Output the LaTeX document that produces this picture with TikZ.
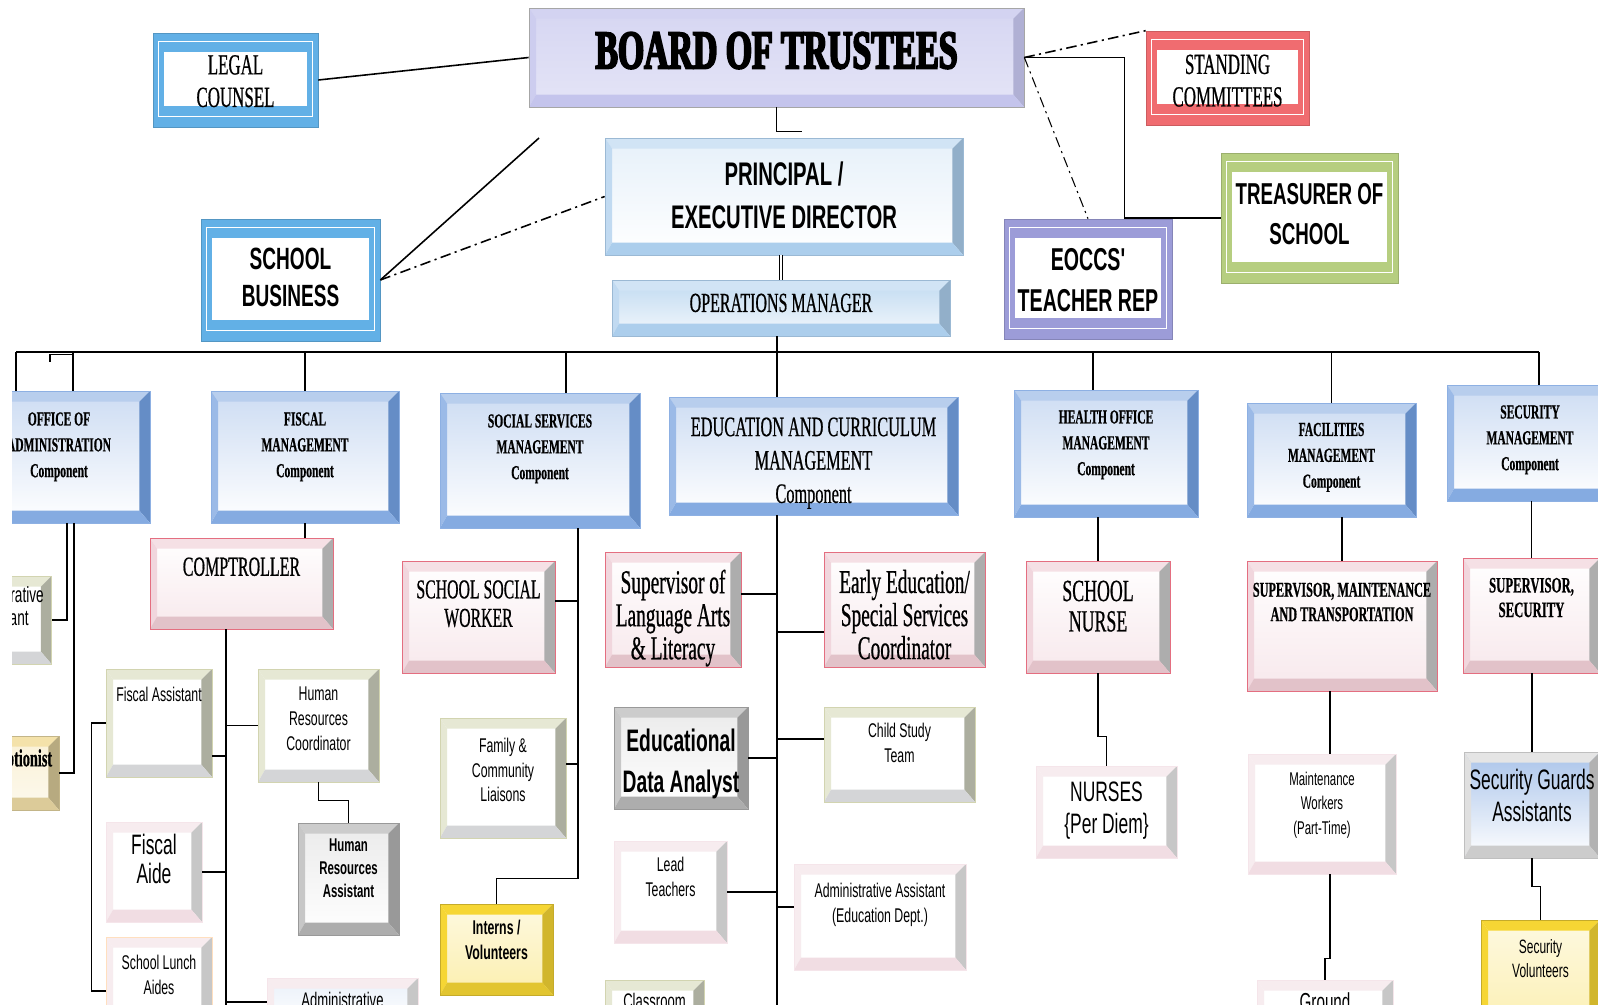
\documentclass[tikz,border=0pt]{standalone}
\usepackage{fontspec}
\setmainfont{Liberation Serif}
\newfontfamily\nserif[FakeStretch=0.58,FakeBold=0.6]{Liberation Serif}
\newfontfamily\nsans[FakeStretch=0.62]{Liberation Sans}
\newfontfamily\heavy[FakeStretch=0.62,FakeBold=3.5]{Liberation Serif}

\newlength\pxu
\setlength\pxu{0.569pt}
\newcommand{\fs}[2]{\fontsize{#1}{#2}\selectfont}
% text block, raised by #1 pixels of the chart
\newcommand{\lift}[2]{\raisebox{\dimexpr #1\pxu-.3em\relax}[0pt][0pt]{%
  \begin{tabular}{@{}c@{}}#2\end{tabular}}}

\definecolor{compblue}{RGB}{112,156,220}
\definecolor{lav}{RGB}{196,196,236}
\definecolor{pblue}{RGB}{172,206,236}
\definecolor{rimblue}{RGB}{98,176,230}
\definecolor{rimred}{RGB}{240,108,112}
\definecolor{rimgreen}{RGB}{182,206,128}
\definecolor{rimlav}{RGB}{156,156,216}
\definecolor{pinkline}{RGB}{228,110,128}
\definecolor{pinkband}{RGB}{238,204,212}
\definecolor{creamband}{RGB}{230,232,212}
\definecolor{creamline}{RGB}{210,212,176}
\definecolor{faint}{RGB}{238,212,220}
\definecolor{yel}{RGB}{246,214,52}
\definecolor{sand}{RGB}{244,226,170}

\tikzset{
  sz/.style 2 args={minimum width=#1*0.02cm, minimum height=#2*0.02cm, inner sep=0pt},
  bev/.style n args={4}{line width=.4pt, path picture={
      \path (path picture bounding box.north west) coordinate (bvA)
            (path picture bounding box.north east) coordinate (bvB)
            (path picture bounding box.south east) coordinate (bvC)
            (path picture bounding box.south west) coordinate (bvD);
      \path ([shift={(4pt,-6pt)}]bvA) coordinate (bvE)
            ([shift={(-6pt,-6pt)}]bvB) coordinate (bvF)
            ([shift={(-6pt,7pt)}]bvC) coordinate (bvG)
            ([shift={(4pt,7pt)}]bvD) coordinate (bvH);
      \fill[#1] (bvA) -- (bvB) -- (bvF) -- (bvE) -- cycle;
      \fill[#2] (bvA) -- (bvE) -- (bvH) -- (bvD) -- cycle;
      \fill[#3] (bvB) -- (bvC) -- (bvG) -- (bvF) -- cycle;
      \fill[#4] (bvD) -- (bvH) -- (bvG) -- (bvC) -- cycle;}},
  rim/.style={fill=#1, draw=#1!85!black, line width=.4pt, path picture={
      \fill[white] ([shift={(6pt,-11pt)}]path picture bounding box.north west)
        rectangle ([shift={(-6pt,12pt)}]path picture bounding box.south east);
      \draw[white, line width=.8pt] ([shift={(3pt,-5pt)}]path picture bounding box.north west)
        rectangle ([shift={(-3pt,6pt)}]path picture bounding box.south east);}},
  boardbox/.style={bev={lav!75}{lav!85}{lav!90!black}{lav}, top color=lav!70,
      bottom color=lav!45, draw=black!35, font=\heavy\bfseries\fs{31}{34}},
  pblbox/.style={bev={pblue!55}{pblue!75}{pblue!85!black}{pblue}, top color=pblue!30,
      bottom color=white, draw=pblue!90!black, font=\nsans\bfseries\fs{18.6}{24.4}},
  comp/.style={bev={compblue!50}{compblue!70}{compblue!90!black}{compblue!85},
      top color=compblue!35, bottom color=white, draw=compblue!80,
      font=\nserif\bfseries\fs{11.3}{14.7}},
  pinkbox/.style={bev={pinkband!60}{pinkband!80}{black!32}{pinkband!95!black},
      top color=white, bottom color=pinkband!45, draw=pinkline, font=\nserif\fs{15.7}{16.5}},
  creambox/.style={bev={creamband}{creamband}{black!25!creamband}{blue!8!creamband},
      fill=white, draw=creamline, font=\nsans\fs{11.3}{14.3}},
  faintbox/.style={bev={faint!45}{faint!45}{black!22}{faint!80}, fill=white,
      draw=faint!60, font=\nsans\fs{11.3}{14.3}},
  greybox/.style={bev={black!20}{black!22}{black!40}{black!32}, top color=black!8,
      bottom color=white, draw=black!40, font=\nsans\bfseries\fs{10.5}{13.3}},
  yelbox/.style={bev={yel}{yel}{yel!85!black}{yel!92!black}, top color=yel!15,
      bottom color=yel!40, draw=yel!80!black, font=\nsans\fs{11.3}{14.3}},
  sandbox/.style={bev={sand}{sand}{sand!75!black}{sand!90!black}, top color=sand!50,
      bottom color=sand!20, draw=sand!80!black},
  guardbox/.style={bev={black!10}{black!12}{black!30}{black!20}, top color=compblue!60,
      bottom color=white, draw=black!25, font=\nsans\fs{16}{18.5}},
  dotlink/.style={dash pattern=on 6pt off 2.5pt on 1.2pt off 2.5pt}
}

\begin{document}
\begin{tikzpicture}[x=0.02cm, y=-0.02cm, line width=.9pt]
  \useasboundingbox (0,0) rectangle (1598,1004);
  \clip (12,0) rectangle (1598,1004);

  % board, principal and advisers
  \node[boardbox, sz={495}{99}] (board) at (776.5,57.5) {\lift{6.5}{BOARD OF TRUSTEES}};
  \node[rim=rimblue, sz={165}{94}, font=\nserif\fs{16.6}{18.5}] (legal) at (235.5,80) {\lift{-3}{LEGAL\\COUNSEL}};
  \node[rim=rimred, sz={163}{94}, font=\nserif\fs{16.6}{18.5}] (stand) at (1227.5,78) {\lift{-4.5}{STANDING\\COMMITTEES}};
  \node[pblbox, sz={358}{117}] (princ) at (784,196.5) {\lift{0}{PRINCIPAL /\\EXECUTIVE DIRECTOR}};
  \node[pblbox, top color=pblue!75, bottom color=pblue!15, sz={338}{56}, font=\nserif\fs{15.7}{17}] (ops) at (781,308) {\lift{4}{OPERATIONS MANAGER}};
  \node[rim=rimblue, sz={179}{122}, font=\nsans\bfseries\fs{17.5}{21.4}] (biz) at (290.5,280) {\lift{1}{SCHOOL\\BUSINESS}};
  \node[rim=rimgreen, sz={177}{130}, font=\nsans\bfseries\fs{17.2}{23}] (treas) at (1309.5,218) {\lift{3}{TREASURER OF\\SCHOOL}};
  \node[rim=rimlav, sz={168}{120}, font=\nsans\bfseries\fs{18}{23}] (eoccs) at (1088,279) {\lift{-2}{EOCCS'\\TEACHER REP}};

  % components
  \node[comp, sz={182}{132}] (office) at (59,457) {\lift{12}{OFFICE OF\\ADMINISTRATION\\Component}};
  \node[comp, sz={188}{132}] (fiscal) at (305,457) {\lift{12}{FISCAL\\MANAGEMENT\\Component}};
  \node[comp, sz={200}{135}] (social) at (540,460.5) {\lift{13.5}{SOCIAL SERVICES\\MANAGEMENT\\Component}};
  \node[comp, sz={289}{118}, font=\nserif\fs{16}{19}] (edu) at (813.5,456) {\lift{-6}{EDUCATION AND CURRICULUM\\MANAGEMENT\\Component}};
  \node[comp, sz={184}{127}] (health) at (1106,453.5) {\lift{10.5}{HEALTH OFFICE\\MANAGEMENT\\Component}};
  \node[comp, sz={169}{114}] (fac) at (1331.5,460) {\lift{4.5}{FACILITIES\\MANAGEMENT\\Component}};
  \node[comp, sz={166}{116}] (secm) at (1530,443) {\lift{5}{SECURITY\\MANAGEMENT\\Component}};

  % office of administration staff
  \node[creambox, sz={101}{88}, font=\nsans\fs{12.5}{13.3}] (adm) at (1,620) {\lift{12}{Administrative\\Assistant}};
  \node[sandbox, sz={89}{74}, font=\nserif\bfseries\fs{14}{15}] (recep) at (14.5,773) {\lift{13}{Receptionist}};

  % fiscal staff
  \node[pinkbox, sz={183}{91}] (compt) at (241.5,583.5) {\lift{15.5}{COMPTROLLER}};
  \node[creambox, sz={106}{108}] (fa) at (159,723) {\lift{28}{Fiscal Assistant}};
  \node[creambox, sz={121}{113}] (hrc) at (318.5,725.5) {\lift{6.5}{Human\\Resources\\Coordinator}};
  \node[greybox, sz={101}{112}] (hra) at (348.5,879) {\lift{10}{Human\\Resources\\Assistant}};
  \node[faintbox, sz={96}{100}, font=\nsans\fs{16}{16.7}] (aide) at (154,872) {\lift{10}{Fiscal\\Aide}};
  \node[faintbox, draw=orange!25, sz={106}{108}] (lunch) at (159,991) {\lift{15.5}{School Lunch\\Aides}};
  \node[faintbox, top color=compblue!15, bottom color=white, sz={151}{48}, font=\nsans\fs{12}{14}] (admb) at (342.5,1002) {\lift{0}{Administrative}};

  % social services staff
  \node[pinkbox, sz={153}{112}, font=\nserif\fs{15.5}{16.2}] (ssw) at (478.5,617) {\lift{12}{SCHOOL SOCIAL\\WORKER}};
  \node[creambox, sz={126}{120}, font=\nsans\fs{11.3}{13.9}] (fam) at (503,778) {\lift{7}{Family \&\\Community\\Liaisons}};
  \node[yelbox, sz={113}{91}, font=\nsans\bfseries\fs{11.3}{14.5}] (interns) at (496.5,949.5) {\lift{8.5}{Interns /\\Volunteers}};

  % education staff
  \node[pinkbox, sz={136}{115}, font=\nserif\fs{19}{18.8}] (lang) at (673,609.5) {\lift{-7.5}{Supervisor of\\Language Arts\\\& Literacy}};
  \node[pinkbox, sz={161}{115}, font=\nserif\fs{19}{18.8}] (early) at (904.5,609.5) {\lift{-7.5}{Early Education/\\Special Services\\Coordinator}};
  \node[greybox, sz={134}{102}, font=\nsans\bfseries\fs{17.7}{23}] (eda) at (681,758) {\lift{-4}{Educational\\Data Analyst}};
  \node[creambox, sz={151}{95}] (cst) at (899.5,754.5) {\lift{10.5}{Child Study\\Team}};
  \node[faintbox, sz={113}{102}] (lead) at (670.5,892) {\lift{14}{Lead\\Teachers}};
  \node[faintbox, sz={172}{106}] (aae) at (880,917) {\lift{13}{Administrative Assistant\\(Education Dept.)}};
  \node[creambox, sz={99}{46}, font=\nsans\fs{12}{14}] (class) at (654.5,1003) {\lift{0}{Classroom}};

  % health, facilities, security staff
  \node[pinkbox, sz={144}{112}, font=\nserif\fs{17.5}{17.3}] (nurse) at (1098,617) {\lift{8.5}{SCHOOL\\NURSE}};
  \node[faintbox, sz={141}{92}, font=\nsans\fs{16}{18.5}] (nurses) at (1106.5,812) {\lift{2}{NURSES\\\{Per Diem\}}};
  \node[pinkbox, sz={190}{130}, font=\nserif\bfseries\fs{12}{13.9}] (supm) at (1342,626) {\lift{23}{SUPERVISOR, MAINTENANCE\\AND TRANSPORTATION}};
  \node[faintbox, sz={148}{120}, font=\nsans\fs{10.5}{13.9}] (maint) at (1322,814) {\lift{10}{Maintenance\\Workers\\(Part-Time)}};
  \node[faintbox, sz={136}{48}, font=\nsans\fs{14}{16}] (ground) at (1325,1004) {\lift{0}{Ground}};
  \node[pinkbox, sz={137}{115}, font=\nserif\bfseries\fs{12.5}{14}] (sups) at (1531.5,615.5) {\lift{17}{SUPERVISOR,\\SECURITY}};
  \node[guardbox, sz={136}{106}] (sga) at (1532,805) {\lift{7}{Security Guards\\Assistants}};
  \node[yelbox, sz={119}{120}, font=\nsans\fs{11}{13.6}] (secv) at (1540.5,980) {\lift{20}{Security\\Volunteers}};

  % links at the top
  \coordinate (bizend) at (539,138);
  \draw (legal.east) -- (board.west);
  \draw (biz.east) -- (bizend);
  \draw[dotlink] (biz.east) -- (princ.west);
  \draw (board.south) |- ([shift={(18,-6)}]princ.north);
  \draw[dotlink] (board.east) -- (stand.north west);
  \draw (board.east) -| ([shift={(-96,0)}]treas.west) -- (treas.west);
  \draw[dotlink, line width=.6pt] (board.east) -- (eoccs.north);
  \draw[double, double distance=1.5pt, line width=.6pt] (ops.north) -- (ops.north |- princ.south);

  % main bus
  \coordinate (busl) at (16,352);
  \coordinate (busr) at (1539,352);
  \coordinate (etop) at ([shift={(-36.5,0)}]edu.north);
  \draw[line width=1.4pt] (busl) -- (busr);
  \draw (busl) -- (busl |- office.north);
  \draw ([shift={(14,0)}]office.north) -- ++(0,-39);
  \draw ([shift={(-9,0)}]office.north) ++(0,-29) -- ++(0,-7) -- ++(23,0);
  \draw (fiscal.north) -- (fiscal.north |- busl);
  \draw ([shift={(26,0)}]social.north) -- ++(0,-41);
  \draw (etop |- ops.south) -- (etop);
  \draw ([shift={(-13,0)}]health.north) -- ++(0,-38);
  \draw (fac.north) -- (fac.north |- busl);
  \draw (busr) -- (busr |- secm.north);

  % office of administration
  \draw ([shift={(8,0)}]office.south) |- (adm.east);
  \draw ([shift={(15,0)}]office.south) |- (recep.east);

  % fiscal
  \coordinate (ctop) at ([shift={(-15.5,0)}]compt.south);
  \draw (fiscal.south) -- (fiscal.south |- compt.north);
  \draw (ctop) -- ++(0,380);
  \draw (ctop) |- ([shift={(0,33)}]fa.east);
  \draw (ctop) |- (hrc.west);
  \draw (ctop) |- (aide.east);
  \draw (ctop) |- (admb.west);
  \draw (fa.west) -- ++(-14,0) |- (lunch.west);
  \draw (hrc.south) -- ++(0,18) -| (hra.north);

  % social services
  \coordinate (strunk) at ([shift={(38,0)}]social.south);
  \draw (strunk) -- ++(0,350) -| (interns.north);
  \draw (strunk) |- ([shift={(0,-16)}]ssw.east);
  \draw (strunk) |- ([shift={(0,-14)}]fam.east);

  % education
  \coordinate (etrunk) at ([shift={(-36.5,0)}]edu.south);
  \draw (etrunk) -- ++(0,500);
  \draw (etrunk) |- ([shift={(0,-15.5)}]lang.east);
  \draw (etrunk) |- ([shift={(0,22.5)}]early.west);
  \draw (etrunk) |- (eda.east);
  \draw (etrunk) |- ([shift={(0,-15.5)}]cst.west);
  \draw (etrunk) |- (lead.east);
  \draw (etrunk) |- ([shift={(0,-10)}]aae.west);

  % health
  \draw (nurse.north) -- (nurse.north |- health.south);
  \draw (nurse.south) -- ++(0,63) -| (nurses.north);

  % facilities
  \draw (supm.north) -- (supm.north |- fac.south);
  \draw ([shift={(8,0)}]maint.north) -- ++(0,-63);
  \draw ([shift={(8,0)}]maint.south) -- ++(0,84) -| (ground.north);

  % security
  \draw (sups.north) -- (sups.north |- secm.south);
  \draw (sga.north) -- (sga.north |- sups.south);
  \draw (sga.south) -- ++(0,28) -| (secv.north);
\end{tikzpicture}
\end{document}
